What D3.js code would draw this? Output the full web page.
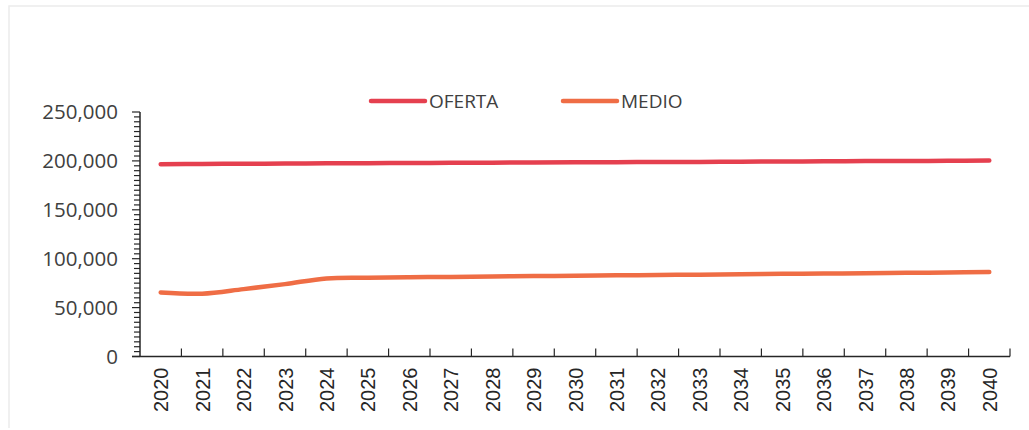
<!DOCTYPE html>
<head>
    <meta charset="utf-8">
    <script src="https://d3js.org/d3.v7.min.js"></script>
    <style>
        body {
            margin: 0;
            background: white;
        }
        .ylab { font-family: "Open Sans", sans-serif; font-size: 20.5px; fill: #404040; }
        .xlab { font-family: "Liberation Sans", Arial, sans-serif; font-size: 20px; fill: #262626; }
        .leg { font-family: "Open Sans", sans-serif; font-size: 19px; fill: #404040; }
    </style>
</head>

<body>
<svg id="graph" width="1029" height="430"></svg>
<script>

    const years = ["2020", "2021", "2022", "2023", "2024", "2025", "2026", "2027", "2028", "2029", "2030",
        "2031", "2032", "2033", "2034", "2035", "2036", "2037", "2038", "2039", "2040"];

    const oferta = [196700, 196900, 197100, 197300, 197500, 197700, 197900, 198000, 198200, 198400, 198500,
        198700, 198900, 199000, 199200, 199400, 199600, 199800, 199900, 200100, 200300];

    const medio = [65500, 64200, 68900, 74000, 79800, 80500, 81000, 81400, 81800, 82200, 82600,
        83000, 83300, 83700, 84100, 84500, 84800, 85200, 85600, 85900, 86300];

    const yTicks = [0, 50000, 100000, 150000, 200000, 250000];
    const seriesNames = ["OFERTA", "MEDIO"];
    const colors = {"OFERTA": "#e5404f", "MEDIO": "#ef6d45"};

    const svg = d3.select("#graph");

    // faint frame of the scanned chart area
    svg.append("path")
        .attr("d", "M9,428 L9,6 L1029,6")
        .attr("fill", "none")
        .attr("stroke", "#ececec")
        .attr("stroke-width", 1.5);

    const x = d3.scaleBand()
        .domain(years)
        .range([140, 1010])
        .padding(0);

    const y = d3.scaleLinear()
        .domain([0, 250000])
        .range([356.5, 112]);

    const axisColor = "#262626";

    // y axis line
    svg.append("line")
        .attr("x1", 140).attr("x2", 140)
        .attr("y1", y(250000)).attr("y2", y(0))
        .attr("stroke", axisColor).attr("stroke-width", 1.5);

    // minor ticks every 5,000
    svg.selectAll("ytickminor")
        .data(d3.range(0, 250001, 5000))
        .enter()
        .append("line")
        .attr("x1", function (d) { return yTicks.includes(d) ? 132 : 134; })
        .attr("x2", 140)
        .attr("y1", function (d) { return y(d); })
        .attr("y2", function (d) { return y(d); })
        .attr("stroke", axisColor)
        .attr("stroke-width", 1.2);

    svg.selectAll("ylabels")
        .data(yTicks)
        .enter()
        .append("text")
        .attr("class", "ylab")
        .attr("x", 118)
        .attr("y", function (d) { return y(d); })
        .attr("dy", "0.35em")
        .attr("text-anchor", "end")
        .text(function (d) { return d3.format(",")(d); });

    // x axis line
    svg.append("line")
        .attr("x1", 132).attr("x2", 1010)
        .attr("y1", y(0)).attr("y2", y(0))
        .attr("stroke", axisColor).attr("stroke-width", 1.5);

    // x ticks between categories (pointing up)
    svg.selectAll("xticks")
        .data(years.slice(1).concat(["end"]))
        .enter()
        .append("line")
        .attr("x1", function (d) { return d === "end" ? 1010 : x(d); })
        .attr("x2", function (d) { return d === "end" ? 1010 : x(d); })
        .attr("y1", y(0) - 8)
        .attr("y2", y(0))
        .attr("stroke", axisColor)
        .attr("stroke-width", 1.2);

    svg.selectAll("xlabels")
        .data(years)
        .enter()
        .append("text")
        .attr("class", "xlab")
        .attr("transform", function (d) {
            return "translate(" + (x(d) + x.bandwidth() / 2 + 7.5) + "," + (y(0) + 11) + ") rotate(-90)";
        })
        .attr("text-anchor", "end")
        .text(function (d) { return d; });

    const line = d3.line()
        .x(function (d, i) { return x(years[i]) + x.bandwidth() / 2; })
        .y(function (d) { return y(d); })
        .curve(d3.curveCatmullRom.alpha(0.5));

    const seriesData = {"OFERTA": oferta, "MEDIO": medio};

    seriesNames.forEach(function (name) {
        svg.append("path")
            .datum(seriesData[name])
            .attr("d", line)
            .attr("fill", "none")
            .attr("stroke", colors[name])
            .attr("stroke-width", 4.5)
            .attr("stroke-linecap", "round");
    });

    // legend
    const legendX = [370, 562];
    const legend = svg.selectAll("legend")
        .data(seriesNames)
        .enter()
        .append("g")
        .attr("transform", function (d, i) { return "translate(" + legendX[i] + ",101)"; });

    legend.append("line")
        .attr("x1", 1).attr("x2", 55)
        .attr("y1", 0).attr("y2", 0)
        .attr("stroke", function (d) { return colors[d]; })
        .attr("stroke-width", 4.5)
        .attr("stroke-linecap", "round");

    legend.append("text")
        .attr("class", "leg")
        .attr("x", 59)
        .attr("y", 0)
        .attr("dy", "0.35em")
        .text(function (d) { return d; });

</script>

</body>
